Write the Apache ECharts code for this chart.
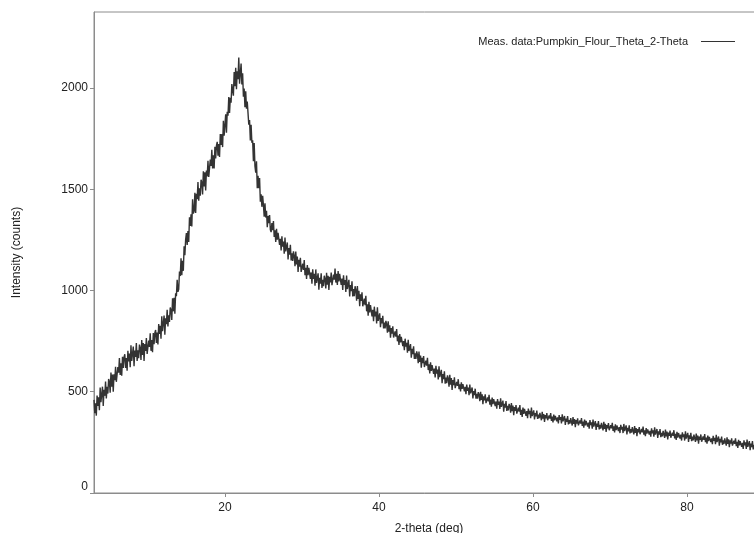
<!DOCTYPE html>
<html>
<head>
<meta charset="utf-8">
<script src="https://cdn.jsdelivr.net/npm/echarts@6/dist/echarts.min.js"></script>
<style>
html,body{margin:0;padding:0;background:#fff;}
#chart{width:754px;height:533px;}
</style>
</head>
<body>
<div id="chart"></div>
<script>
// 2-theta scan: start angle and step (deg)
const twoThetaStart = 3.0;
const twoThetaStep = 0.1;
// Intensity (counts), one value per step from 3.0 to 89.0 deg (one row per degree)
const intensity = [
460,394,443,382,481,430,472,409,521,448,
450,525,430,510,480,550,467,524,491,563,
550,495,595,525,585,500,586,557,623,549,
550,622,594,666,583,640,579,673,617,671,
685,618,666,604,702,650,688,621,729,652,
650,723,626,704,672,740,652,704,666,733,
715,657,755,682,740,652,735,702,765,687,
685,753,721,789,702,755,695,790,735,790,
805,741,792,733,834,785,826,762,873,799,
800,876,782,863,834,905,822,878,845,916,
903,854,961,897,964,885,986,972,1053,994,
1006,1094,1071,1159,1075,1147,1097,1218,1174,1251,
1284,1225,1293,1239,1362,1319,1376,1316,1450,1380,
1392,1482,1383,1478,1451,1535,1443,1505,1468,1547,
1532,1474,1588,1514,1584,1494,1592,1563,1640,1561,
1566,1646,1615,1695,1603,1667,1603,1710,1652,1715,
1734,1665,1723,1659,1772,1719,1772,1708,1838,1764,
1772,1870,1779,1882,1863,1955,1876,1951,1927,2019,
2017,1962,2079,2008,2100,1994,2082,2043,2150,2021,
2016,2120,2017,2073,1957,1997,1905,1984,1898,1933,
1924,1819,1841,1741,1818,1729,1742,1638,1728,1614,
1582,1638,1505,1566,1505,1555,1438,1475,1413,1467,
1422,1364,1430,1360,1394,1312,1368,1332,1372,1300,
1288,1333,1298,1343,1264,1297,1239,1305,1251,1285,
1287,1225,1255,1197,1267,1217,1241,1181,1261,1193,
1185,1237,1153,1209,1177,1225,1148,1183,1146,1193,
1172,1120,1192,1128,1168,1092,1151,1118,1161,1092,
1083,1132,1101,1150,1075,1112,1057,1126,1075,1112,
1117,1057,1089,1033,1105,1057,1082,1023,1104,1037,
1030,1085,1004,1063,1034,1085,1013,1053,1021,1073,
1057,1010,1087,1028,1073,1002,1067,1040,1089,1026,
1023,1078,1053,1108,1039,1082,1027,1096,1045,1082,
1087,1027,1059,1003,1075,1027,1052,993,1074,1007,
1000,1053,970,1027,996,1045,970,1007,972,1021,
1002,950,1022,958,998,922,981,948,991,922,
913,960,927,974,897,932,876,944,892,928,
932,872,904,848,920,872,896,837,917,850,
846,887,819,864,837,875,813,841,813,850,
834,791,848,797,828,767,814,787,823,768,
760,798,772,810,749,777,731,785,743,771,
774,725,750,705,762,723,741,693,756,701,
694,735,668,712,685,724,662,690,662,699,
683,641,699,647,679,619,667,641,676,622,
615,654,629,667,607,636,590,645,603,632,
636,588,614,570,628,590,609,561,626,572,
566,608,542,587,562,601,540,570,542,581,
566,525,584,535,568,509,558,533,571,518,
517,549,529,562,513,537,501,546,514,538,
541,502,524,488,535,505,521,483,535,492,
487,521,467,503,483,515,466,490,466,498,
486,453,500,460,487,438,477,457,487,444,
439,472,452,485,436,461,426,471,439,463,
467,429,452,416,464,435,452,415,467,425,
421,456,402,440,421,454,405,430,408,440,
429,397,444,404,432,384,424,405,434,392,
388,421,402,434,386,411,376,422,390,415,
419,381,404,369,417,389,406,369,422,380,
378,408,363,395,378,407,366,387,369,396,
387,359,401,367,390,351,385,368,395,359,
355,383,368,395,356,377,348,387,359,381,
385,354,373,344,385,361,375,344,389,354,
350,380,336,368,351,380,339,360,343,370,
361,333,375,341,365,325,360,343,369,334,
330,358,343,370,331,352,322,362,334,356,
360,328,348,318,360,335,349,318,363,328,
325,355,311,343,327,355,314,336,318,346,
337,309,351,317,341,301,335,319,345,310,
306,335,319,347,307,329,299,339,311,333,
337,306,325,296,337,313,327,296,341,306,
303,334,289,322,305,334,294,315,298,325,
317,289,331,297,321,281,316,299,326,290,
287,316,300,328,288,310,281,320,293,314,
319,288,307,278,319,295,310,278,324,288,
286,316,272,304,288,316,276,297,280,307,
299,272,313,280,303,264,298,282,308,273,
269,298,282,310,270,292,262,302,274,296,
300,269,288,259,300,276,290,259,304,269,
266,297,252,285,268,297,256,278,260,288,
279,252,293,260,283,244,279,262,289,253,
250,279,263,291,251,273,244,283,256,277,
282,251,270,241,282,258,273,241,287,251,
248,279,234,267,250,279,238,260,242,270,
261,234,275,242,265,226,260,244,270,234,
230,258,243,270,231,252,223,262,235,256,
260,228,248,218,260,235,250,218,264,228,
225,256,211,244,227,256,215,237,219,247,
240
];
const xTicks = [20, 40, 60, 80];
const yTicks = [0, 500, 1000, 1500, 2000];
const seriesName = 'Meas. data:Pumpkin_Flour_Theta_2-Theta';

const points = intensity.map((v, i) => [Math.round((twoThetaStart + i * twoThetaStep) * 100) / 100, v]);

const axisGray = '#8c8c8c';
const font = 'Liberation Sans, Arial, sans-serif';

const chart = echarts.init(document.getElementById('chart'), null, {renderer: 'canvas'});
chart.setOption({
  animation: false,
  backgroundColor: '#fff',
  grid: {left: 94, top: 12, width: 670, height: 481, show: true, borderColor: axisGray, borderWidth: 1,
         backgroundColor: 'transparent', containLabel: false, outerBoundsMode: 'none'},
  legend: {
    data: [seriesName], right: 14, top: 31, align: 'right',
    itemWidth: 34, itemHeight: 10, itemGap: 0,
    textStyle: {fontFamily: font, fontSize: 11, color: '#222', padding: [0, 8, 0, 0]},
    icon: 'path://M0,5L34,5L34,6L0,6Z'
  },
  xAxis: {
    type: 'value', min: 3, max: 90,
    name: '2-theta (deg)', nameLocation: 'middle', nameGap: 30,
    nameTextStyle: {fontFamily: font, fontSize: 12, color: '#222'},
    splitLine: {show: false},
    axisLine: {show: true, lineStyle: {color: axisGray, width: 1}},
    axisTick: {show: true, length: 4, lineStyle: {color: axisGray}, customValues: xTicks},
    axisLabel: {fontFamily: font, fontSize: 12, color: '#222', margin: 9, customValues: xTicks}
  },
  yAxis: {
    type: 'value', min: 0, max: 2375,
    name: 'Intensity (counts)', nameLocation: 'middle', nameGap: 71,
    nameTextStyle: {fontFamily: font, fontSize: 12, color: '#222'},
    splitLine: {show: false},
    axisLine: {show: true, lineStyle: {color: axisGray, width: 1}},
    axisTick: {show: true, length: 4, lineStyle: {color: axisGray}, customValues: yTicks},
    axisLabel: {
      fontFamily: font, fontSize: 12, color: '#222', margin: 6, customValues: yTicks,
      formatter: v => v === 0 ? '{z|0}' : String(v),
      rich: {z: {fontFamily: font, fontSize: 12, color: '#222', padding: [0, 0, 13, 0]}}
    }
  },
  series: [{
    name: seriesName, type: 'line', data: points,
    symbol: 'none', showSymbol: false, sampling: null, clip: true,
    lineStyle: {color: '#333', width: 1.4},
    itemStyle: {color: '#333'}
  }]
});
</script>
</body>
</html>
